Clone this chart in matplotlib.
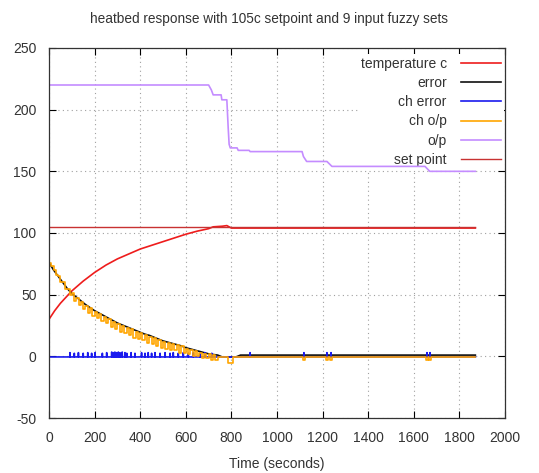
import numpy as np
import matplotlib.pyplot as plt

plt.rcParams['font.family'] = ['Liberation Sans', 'DejaVu Sans']
plt.rcParams['axes.unicode_minus'] = False

# temperature c
temp_t = [0, 25, 50, 75, 100, 150, 200, 250, 300, 350, 400, 450, 500, 550, 600,
          650, 700, 720, 760, 780, 800, 1870]
temp_v = [30, 37, 43, 48, 53, 61, 68, 74, 79, 83, 87, 90, 93, 96, 99,
          101.5, 103.5, 105, 105.5, 106, 104, 104]

# error
err_t = [0, 20, 40, 60, 80, 100, 120, 140, 160, 180, 200, 220, 240, 260, 280,
         300, 320, 340, 360, 380, 400, 420, 440, 460, 480, 500, 520, 540, 560,
         580, 600, 620, 640, 660, 680, 700, 720, 740, 760, 820, 840, 1870]
err_v = [76, 70, 65, 60, 55, 51, 48, 45, 42, 39.5, 37, 35, 33, 31, 29,
         27, 25.5, 24, 22.5, 21, 19.5, 18, 17, 15.5, 14, 12.5, 11.5, 10.5, 9.5,
         8.5, 7, 6, 5, 4, 3, 2, 1.5, 1, -0.5, -0.5, 1, 1]

# ch error: baseline with short spikes
ce_base = -0.5
ce_spike_t = [92, 111, 129, 150, 170, 187, 202, 234, 253, 275, 282, 289, 297,
              304, 311, 321, 333, 341, 360, 377, 406, 421, 435, 450, 465, 487,
              509, 531, 545, 567, 589, 611, 633, 662, 684, 714, 882, 1118,
              1219, 1237, 1658, 1671]
ce_spike_v = [3, 2.5, 3, 2.5, 3, 2.5, 3, 2.5, 3, 3.5, 3, 3.5, 3,
              3.5, 3, 3.5, 3, 2.5, 3, 2.5, 3, 2.5, 3, 2.5, 3, 2.5,
              3, 2.5, 3, 2.5, 3, 2.5, 3, 2.5, 3, 2.5, 3, 3,
              3, 3, 3, 3]
ce_end = 1870

# ch o/p (step values)
cop_t = [0, 10, 20, 30, 40, 50, 60, 70, 80, 90, 100, 110, 120, 130, 140, 150,
         160, 170, 180, 190, 200, 210, 220, 230, 240, 250, 260, 270, 280, 290,
         300, 310, 320, 330, 340, 350, 360, 370, 380, 390, 400, 410, 420, 430,
         440, 450, 460, 470, 480, 490, 500, 510, 520, 530, 540, 550, 560, 570,
         580, 590, 600, 610, 620, 630, 640, 650, 660, 670, 680, 690, 700, 710,
         720, 730, 740, 785, 805, 1112, 1124, 1216, 1222, 1234, 1240, 1655,
         1661, 1668, 1674, 1870]
cop_v = [76, 73, 70, 66, 65, 60, 60, 55, 55, 50, 51, 45, 47, 42, 44, 38,
         41, 35, 39, 33, 36, 31, 34, 29, 32, 27, 30, 24, 28, 22,
         26, 20, 25, 19, 23, 17, 22, 15, 20, 14, 19, 13, 17, 11,
         16, 10, 15, 8, 13, 7, 12, 6, 11, 5, 10, 5, 9, 3,
         8, 3, 6, 2, 5, 0, 4, 0, 3, -1, 2, -1, 1.5, -3,
         1, -3, -0.5, -5.5, -0.5, -3, -0.5, -3, -0.5, -3, -0.5, -3,
         -0.5, -3, -0.5, -0.5]

# o/p
op_t = [0, 700, 712, 720, 755, 758, 780, 786, 790, 795, 825, 830, 878, 882,
        1110, 1116, 1130, 1219, 1241, 1649, 1670, 1870]
op_v = [220, 220, 216, 212, 212, 208, 208, 185, 172, 169, 169, 167, 167, 166,
        166, 162, 158, 158, 154, 154, 150, 150]

# set point
sp_t = [0, 1870]
sp_v = [105, 105]

# build ch error polyline from spikes
ce_t = [0]
ce_v = [ce_base]
for t, v in zip(ce_spike_t, ce_spike_v):
    ce_t += [t - 1, t, t + 1]
    ce_v += [ce_base, v, ce_base]
ce_t.append(ce_end)
ce_v.append(ce_base)

fig = plt.figure(figsize=(5.39, 4.73), dpi=100)
ax = fig.add_axes([49 / 539, 1 - 418 / 473, 456 / 539, 370 / 473])

lw = 1.2
ax.plot(temp_t, temp_v, color='#ee1c1c', lw=lw, label='temperature c')
ax.plot(err_t, err_v, color='#111111', lw=lw, label='error')
ax.plot(ce_t, ce_v, color='#1a1aee', lw=lw, label='ch error')
ax.plot(cop_t, cop_v, color='#ffa500', lw=lw, drawstyle='steps-post', label='ch o/p')
ax.plot(op_t, op_v, color='#c48cff', lw=lw, label='o/p')
ax.plot(sp_t, sp_v, color='#c83232', lw=1.0, label='set point')

ax.set_xlim(0, 2000)
ax.set_ylim(-50, 250)
ax.set_xticks(np.arange(0, 2001, 200))
ax.set_yticks(np.arange(-50, 251, 50))
ax.grid(True, color='#a0a0a0', linestyle=(0, (1, 3)), linewidth=0.8)
ax.tick_params(direction='in', top=True, right=True, length=5, width=0.8,
               labelsize=10, labelcolor='#333333', pad=9)
for s in ax.spines.values():
    s.set_color('#333333')
    s.set_linewidth(0.9)

ax.set_xlabel('Time (seconds)', fontsize=10, color='#333333', labelpad=9)
fig.suptitle('heatbed response with 105c setpoint and 9 input fuzzy sets',
             fontsize=9.8, color='#333333', x=0.5, y=0.975)

leg = ax.legend(loc='upper right', bbox_to_anchor=(1.0, 0.988),
                markerfirst=False, frameon=True,
                fontsize=10, handlelength=2.9, labelspacing=0.38,
                borderaxespad=0.1, borderpad=0.2, handletextpad=1.0,
                fancybox=False)
leg.get_frame().set_edgecolor('none')
leg.get_frame().set_facecolor('white')
leg.get_frame().set_alpha(1)
leg.set_zorder(1.8)
for t in leg.get_texts():
    t.set_ha('right')
    t.set_color('#333333')
leg._legend_box.align = 'right'

fig.savefig('out.png', dpi=100)
